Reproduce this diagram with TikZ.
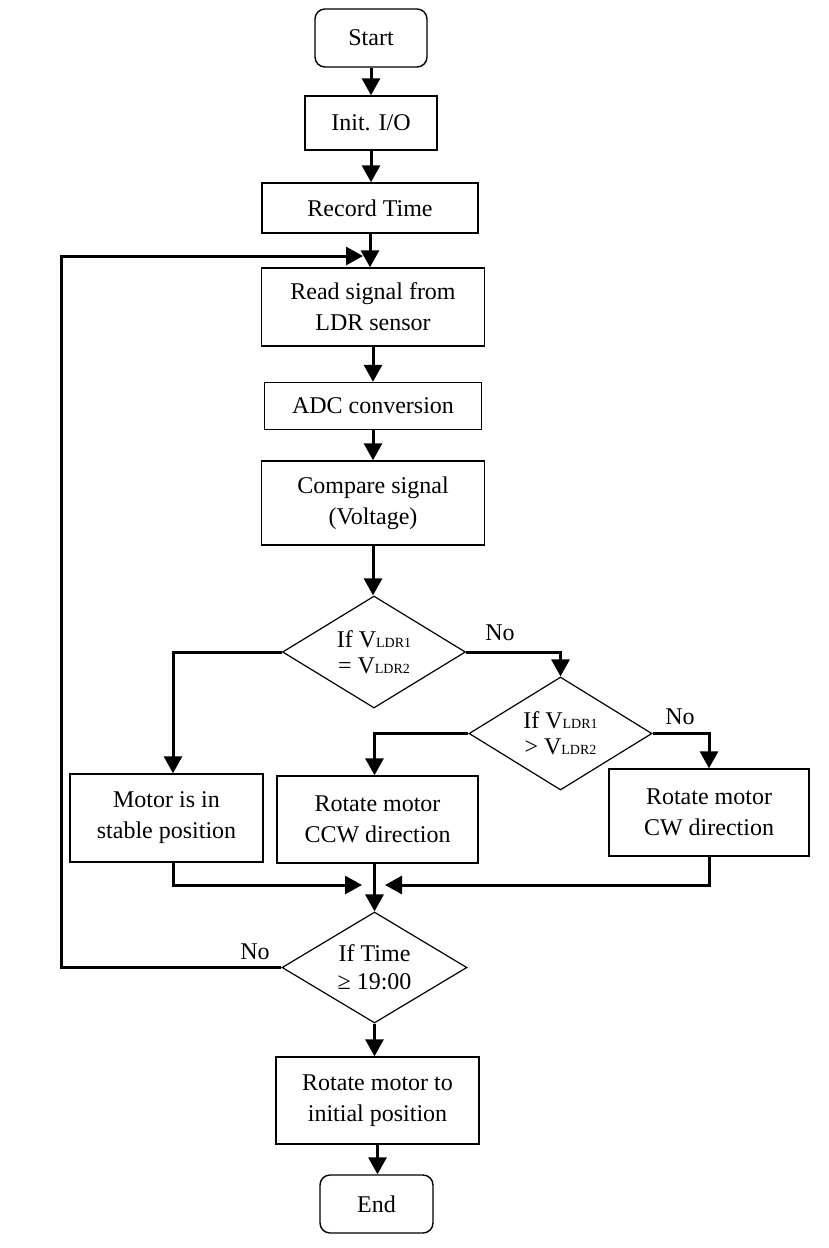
\documentclass[tikz,border=0pt]{standalone}
\usepackage{fontspec}
\setmainfont{Liberation Serif}
\usetikzlibrary{arrows.meta,shapes.geometric,calc}
\newcommand\lsub[1]{{\fontsize{14}{14}\selectfont #1}}
\begin{document}
\begin{tikzpicture}[x=1pt,y=-1pt,
  every node/.style={font=\fontsize{24}{31}\selectfont},
  box/.style 2 args={draw, line width=1.4pt, inner sep=0pt, align=center, minimum width=#1, minimum height=#2},
  term/.style 2 args={box={#1}{#2}, rounded corners=10pt},
  dia/.style 2 args={diamond, draw, line width=1.2pt, inner sep=0pt, aspect=1.63, align=center,
    minimum width=#1, minimum height=#2, font=\fontsize{24}{26}\selectfont},
  conn/.style={line width=3pt, -{Triangle[width=18pt,length=17pt]}},
  lab/.style={inner sep=0pt}]
\fill[white] (0,0) rectangle (828,1248);
\useasboundingbox (0,0) rectangle (828,1248);

\node[term={112}{58}] (start) at (371,38) {Start};
\node[box={132}{54}] (init) at (371,123) {Init. I/O};
\node[box={216}{50}] (record) at (370,208) {Record Time};
\node[box={223}{78}] (read) at (373,307) {Read signal from\\LDR sensor};
\node[box={217}{47}] (adc) at (373,406) {ADC conversion};
\node[box={223}{84}] (compare) at (373,503) {Compare signal\\(Voltage)};
\node[dia={183}{112}] (d1) at (374,652) {If V\lsub{LDR1}\\= V\lsub{LDR2}};
\node[dia={183}{113}] (d2) at (560.5,733.5) {If V\lsub{LDR1}\\> V\lsub{LDR2}};
\node[box={193}{88}] (motor) at (166.5,818) {Motor is in\\stable position};
\node[box={201}{87}] (ccw) at (377.5,819.5) {Rotate motor\\CCW direction};
\node[box={200}{87}] (cw) at (709,812.5) {Rotate motor\\CW direction};
\node[dia={185}{111}, font=\fontsize{24}{28}\selectfont] (d3) at (374.5,967.5) {If Time\\≥ 19:00};
\node[box={203}{87}] (initial) at (377.5,1100.5) {Rotate motor to\\initial position};
\node[term={113}{58}] (end) at (376.5,1204) {End};

\node[lab] (no1) at (500,633) {No};
\node[lab] (no2) at (680,717) {No};
\node[lab] (no3) at (255,952) {No};

\coordinate (loopx) at (61,0);
\coordinate (loopin) at (363,256);
\coordinate (mx) at (173,0);
\coordinate (mL) at (362,885);
\coordinate (mR) at (385,885);

\draw[conn] (start.south) -- (start.south |- init.north);
\draw[conn] (init.south) -- (init.south |- record.north);
\draw[conn] (record.south) -- (record.south |- read.north);
\draw[conn] (read.south) -- (read.south |- adc.north);
\draw[conn] (adc.south) -- (adc.south |- compare.north);
\draw[conn] (compare.south) -- (compare.south |- d1.north);
\draw[conn] (d1.west) -| (mx |- motor.north);
\draw[conn] (d1.east) -| (d2.north);
\draw[conn] (d2.west) -| (d3 |- ccw.north);
\draw[conn] (d2.east) -| (cw.north);
\draw[conn] (mx |- motor.south) |- (mL);
\draw[conn] (cw.south) |- (mR);
\draw[conn] (d3 |- ccw.south) -- (d3.north);
\draw[conn] (d3.west) -- (d3.west -| loopx) |- (loopin);
\draw[conn] (d3.south) -- (d3.south |- initial.north);
\draw[conn] (initial.south) -- (initial.south |- end.north);
\end{tikzpicture}
\end{document}
